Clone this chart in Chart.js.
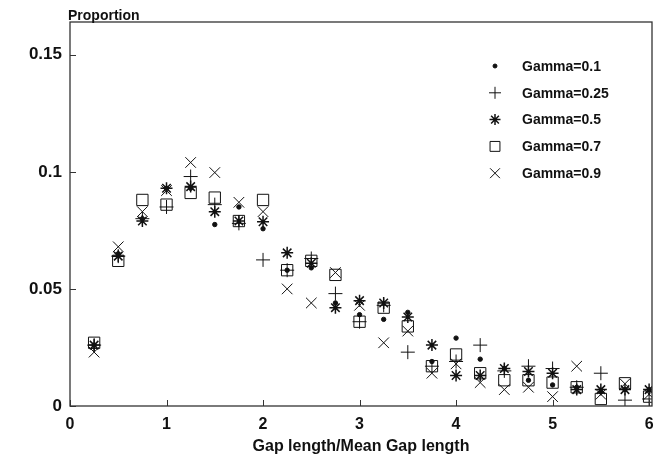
<!DOCTYPE html>
<html>
<head>
<meta charset="utf-8">
<script src="https://cdn.jsdelivr.net/npm/chart.js@4/dist/chart.umd.min.js"></script>
<style>
  body { margin: 0; background: #fff; }
  #wrap { width: 661px; height: 461px; }
</style>
</head>
<body>
<div id="wrap"><canvas id="c" width="661" height="461"></canvas></div>
<script>
var gapRatio = [0.25, 0.5, 0.75, 1, 1.25, 1.5, 1.75, 2, 2.25, 2.5, 2.75, 3,
                3.25, 3.5, 3.75, 4, 4.25, 4.5, 4.75, 5, 5.25, 5.5, 5.75, 6];

var gamma01 = [0.026, 0.065, 0.080, 0.093, 0.093, 0.0775, 0.085, 0.0757, 0.058, 0.059, 0.044, 0.039,
               0.037, 0.040, 0.019, 0.029, 0.020, 0.016, 0.011, 0.009, 0.008, 0.006, 0.007, 0.007];
var gamma025 = [0.026, 0.064, 0.080, 0.085, 0.098, 0.086, 0.078, 0.0624, 0.058, 0.063, 0.048, 0.036,
                0.043, 0.023, 0.017, 0.019, 0.026, 0.015, 0.017, 0.016, 0.008, 0.014, 0.0025, 0.003];
var gamma05 = [0.026, 0.064, 0.079, 0.093, 0.0937, 0.083, 0.079, 0.0787, 0.0654, 0.061, 0.042, 0.045,
               0.044, 0.038, 0.026, 0.013, 0.013, 0.016, 0.0147, 0.014, 0.007, 0.007, 0.007, 0.007];
var gamma07 = [0.027, 0.062, 0.088, 0.086, 0.091, 0.089, 0.079, 0.088, 0.058, 0.062, 0.056, 0.036,
               0.042, 0.034, 0.017, 0.022, 0.014, 0.011, 0.011, 0.010, 0.008, 0.003, 0.0097, 0.004];
var gamma09 = [0.023, 0.068, 0.083, 0.092, 0.104, 0.0997, 0.087, 0.083, 0.050, 0.044, 0.057, 0.043,
               0.027, 0.032, 0.014, 0.018, 0.010, 0.007, 0.008, 0.004, 0.017, 0.005, 0.0095, 0.005];

var seriesLabels = ['Gamma=0.1', 'Gamma=0.25', 'Gamma=0.5', 'Gamma=0.7', 'Gamma=0.9'];
var yTicks = [0, 0.05, 0.1, 0.15];
var xTicks = [0, 1, 2, 3, 4, 5, 6];

var fontFamily = '"Liberation Sans", Arial, Helvetica, sans-serif';
var ink = '#111';

// marker look for each series: [pointStyle, radius, borderWidth, fill, legend radius]
var markers = [
  ['circle', 2.2, 1, ink, 2],
  ['cross', 7, 1, 'rgba(0,0,0,0)', 6],
  ['star', 6, 1.5, 'rgba(0,0,0,0)', 5.5],
  ['rect', 8, 1, 'rgba(0,0,0,0)', 7],
  ['crossRot', 7.5, 1, 'rgba(0,0,0,0)', 7]
];

function toPoints(ys) {
  var pts = [];
  for (var i = 0; i < gapRatio.length; i++) {
    pts.push({x: gapRatio[i], y: ys[i]});
  }
  return pts;
}

var allSeries = [gamma01, gamma025, gamma05, gamma07, gamma09];
var datasets = allSeries.map(function(ys, i) {
  var m = markers[i];
  return {
    label: seriesLabels[i],
    data: toPoints(ys),
    pointStyle: m[0],
    pointRadius: m[1],
    pointBorderWidth: m[2],
    pointBackgroundColor: m[3],
    pointBorderColor: ink,
    showLine: false
  };
});

// box, inward tick marks, legend and the y title
var decorations = {
  id: 'decorations',
  afterDraw: function(chart) {
    var ctx = chart.ctx;
    var a = chart.chartArea;
    var xs = chart.scales.x, ys = chart.scales.y;
    ctx.save();
    ctx.strokeStyle = '#333';
    ctx.lineWidth = 1.3;
    ctx.strokeRect(a.left, a.top, a.right - a.left, a.bottom - a.top);

    ctx.lineWidth = 1;
    ctx.beginPath();
    xTicks.forEach(function(v) {
      var px = Math.round(xs.getPixelForValue(v)) + 0.5;
      ctx.moveTo(px, a.bottom);
      ctx.lineTo(px, a.bottom - 6);
    });
    yTicks.forEach(function(v) {
      var py = Math.round(ys.getPixelForValue(v)) + 0.5;
      ctx.moveTo(a.left, py);
      ctx.lineTo(a.left + 6, py);
    });
    ctx.stroke();

    // y title above the axis
    ctx.fillStyle = ink;
    ctx.font = 'bold 14px ' + fontFamily;
    ctx.textAlign = 'left';
    ctx.textBaseline = 'middle';
    ctx.fillText('Proportion', a.left - 2, 16);

    // legend inside the plot
    ctx.font = 'bold 14px ' + fontFamily;
    chart.data.datasets.forEach(function(ds, i) {
      var m = markers[i];
      var y = a.top + 44 + i * 26.8;
      ctx.fillStyle = m[3];
      ctx.strokeStyle = ink;
      ctx.lineWidth = m[2];
      Chart.helpers.drawPoint(ctx, {pointStyle: m[0], radius: m[4], rotation: 0, borderWidth: m[2]}, a.right - 157, y);
      ctx.fillStyle = ink;
      ctx.fillText(ds.label, a.right - 130, y + 1);
    });
    ctx.restore();
  }
};

new Chart(document.getElementById('c'), {
  type: 'scatter',
  data: { datasets: datasets },
  plugins: [decorations],
  options: {
    responsive: false,
    animation: false,
    layout: { padding: { top: 22, right: 6, left: 0, bottom: 0 } },
    plugins: {
      legend: { display: false },
      tooltip: { enabled: false }
    },
    scales: {
      x: {
        type: 'linear',
        min: 0,
        max: 6.03,
        grid: { display: false, drawTicks: false },
        border: { display: false },
        afterBuildTicks: function(scale) {
          scale.ticks = xTicks.map(function(v) { return {value: v}; });
        },
        afterFit: function(scale) {
          scale.height = 55;
          scale.paddingLeft = 0;
          scale.paddingRight = 0;
        },
        ticks: {
          color: ink,
          padding: 9,
          maxRotation: 0,
          font: { family: fontFamily, size: 16, weight: 'bold' },
          callback: function(v) { return String(v); }
        },
        title: {
          display: true,
          text: 'Gap length/Mean Gap length',
          color: ink,
          font: { family: fontFamily, size: 16, weight: 'bold' },
          padding: { top: 0, bottom: 5 }
        }
      },
      y: {
        min: 0,
        max: 0.164,
        grid: { display: false, drawTicks: false },
        border: { display: false },
        afterBuildTicks: function(scale) {
          scale.ticks = yTicks.map(function(v) { return {value: v}; });
        },
        afterFit: function(scale) {
          scale.width = 70;
          scale.paddingTop = 0;
          scale.paddingBottom = 0;
        },
        ticks: {
          color: ink,
          padding: 8,
          font: { family: fontFamily, size: 17, weight: 'bold' },
          callback: function(v) { return String(v); }
        }
      }
    }
  }
});
</script>
</body>
</html>
